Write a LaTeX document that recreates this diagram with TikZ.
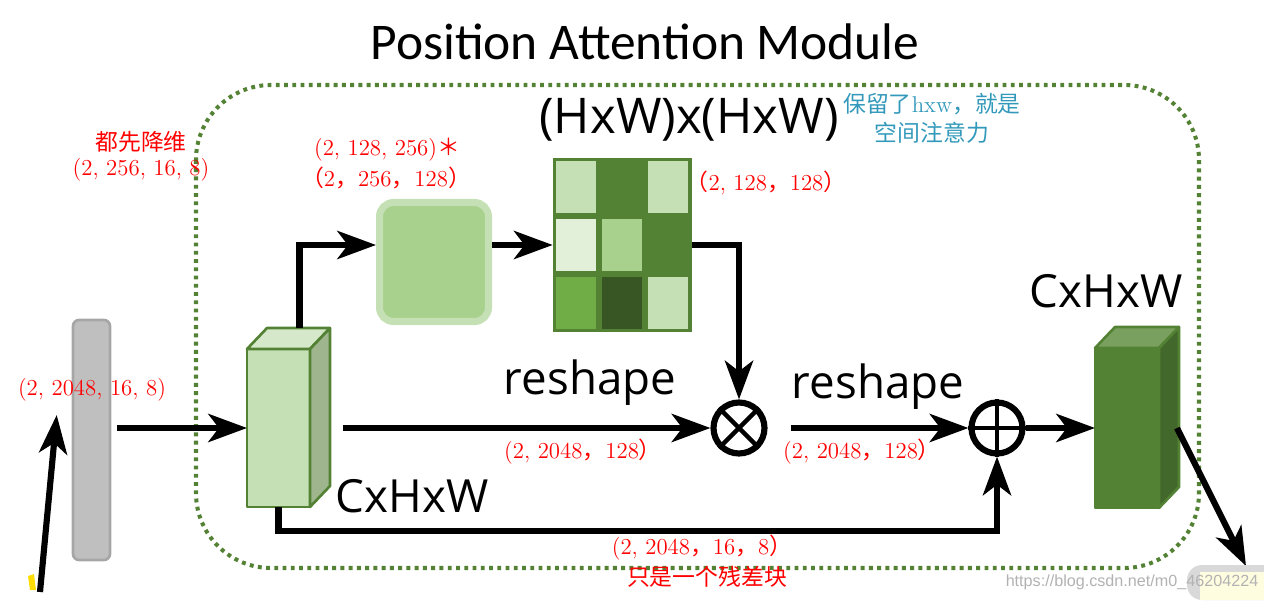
\documentclass[tikz,border=0pt]{standalone}
\usepackage{fontspec}
\setsansfont{Open Sans}
\newfontfamily\titlefont{Carlito}
\newfontfamily\cjk{Noto Sans CJK SC}
\newfontfamily\wmfont{Liberation Sans}
\usetikzlibrary{arrows.meta,calc,positioning}
\definecolor{frame}{HTML}{548235}
\definecolor{lgreen}{HTML}{C5E0B4}
\definecolor{vlgreen}{HTML}{E2F0D9}
\definecolor{mgreen}{HTML}{A9D18E}
\definecolor{bgreen}{HTML}{70AD47}
\definecolor{dkgreen}{HTML}{375623}
\definecolor{topgreen}{HTML}{D5E8CA}
\definecolor{sidegreen}{HTML}{9EB58E}
\definecolor{outtop}{HTML}{7AA05F}
\definecolor{outside}{HTML}{43682B}
\definecolor{noteblue}{HTML}{3399BB}
\newcommand{\fw}[1]{{\cjk #1}}

\begin{document}
\begin{tikzpicture}[x=0.02cm, y=-0.02cm,
arr/.style = {line width=3.5pt, -{Stealth[length=22pt, width=16pt, inset=6pt]}},
dim/.style = {text=red, font=\fontsize{13}{15}\selectfont, inner sep=0pt},
lab/.style = {font=\sffamily\fontsize{26}{30}\selectfont, inner sep=0pt},
note/.style = {text=noteblue, font=\cjk\fontsize{13}{15}\selectfont, inner sep=0pt},
face/.style = {draw=frame, line width=1.5pt, line join=round, inner sep=0pt, outer sep=0pt},
op/.style = {circle, draw, line width=3.5pt, minimum size=1.02cm, inner sep=0pt}]
\useasboundingbox (0,0) rectangle (1264,601);

% dotted module frame
\draw[frame, line width=2.3pt, dash pattern=on 2.2pt off 2.5pt, rounded corners=1.5cm]
  (196,85) rectangle (1199,568);
\node[font=\titlefont\fontsize{29.3}{34}\selectfont] (title) at (645,42) {Position Attention Module};

% input bar
\node[draw=black!35, fill=black!25, line width=1.5pt, rounded corners=0.12cm,
  minimum width=0.74cm, minimum height=4.8cm] (gbar) at (91.5,440) {};
\fill[yellow!80!orange] (28,576) -- (34,574) -- (36,590) -- (30,590) -- cycle;
\coordinate (src) at (40,592);

% feature cube C x H x W
\node[face, fill=lgreen, minimum width=1.26cm, minimum height=3.16cm] (c1) at (278.5,428) {};
\draw[face, fill=topgreen] (c1.north west) -- ++(20,-21) -- ++(63,0) -- (c1.north east) -- cycle;
\draw[face, fill=sidegreen] (c1.north east) -- ++(20,-21) -- ++(0,158) -- (c1.south east) -- cycle;

% conv block
\node[draw=lgreen, fill=mgreen, line width=4pt, rounded corners=0.28cm,
  minimum width=2.18cm, minimum height=2.38cm] (conv) at (434,262) {};

% attention map
\node[fill=frame, minimum width=2.78cm, minimum height=3.48cm, inner sep=0pt] (att) at (622.5,245) {};
\foreach \col/\row/\clr in {0/0/lgreen, 1/0/frame, 2/0/lgreen,
                            0/1/vlgreen, 1/1/mgreen, 2/1/frame,
                            0/2/bgreen, 1/2/dkgreen, 2/2/lgreen}
  \fill[\clr] ($(att.north west)+(\col*46+3,\row*58+3)$) rectangle ++(40,52);

% operators
\node[op] (mul) at (739,428) {};
\draw[line width=2.5pt] (mul.north west) -- (mul.south east) (mul.north east) -- (mul.south west);
\node[op] (add) at (997,428) {};
\draw[line width=2.5pt] (add.north) -- (add.south) (add.west) -- (add.east);

% output cube
\node[face, fill=frame, draw=frame, minimum width=1.28cm, minimum height=3.2cm] (c2) at (1127,428) {};
\draw[face, fill=outtop] (c2.north west) -- ++(20,-21) -- ++(64,0) -- (c2.north east) -- cycle;
\draw[face, fill=outside] (c2.north east) -- ++(20,-21) -- ++(0,160) -- (c2.south east) -- cycle;
\coordinate (next) at (1246,566);

% connectors
\draw[arr] (src) -- ($(gbar.west)+(-15,-25)$);
\draw[arr, shorten <=3pt] (gbar.east |- c1.west) -- (c1.west);
\draw[arr] ($(c1.north)+(21,-21)$) |- (conv.west |- att.west);
\draw[arr] (conv.east |- att.west) -- (att.west);
\draw[arr] (att.east) -| (mul.north);
\draw[arr, shorten <=0.66cm] (c1.east) -- (mul.west);
\draw[arr, shorten <=0.46cm] (mul.east) -- (add.west);
\draw[arr] (c1.south) -- ++(0,24) -| (add.south);
\draw[arr] (add.east) -- (c2.west);
\draw[arr] ($(c2.east)+(18,0)$) -- (next);

% labels
\node[lab, font=\sffamily\fontsize{28}{32}\selectfont] (attlab) at (689,120) {(HxW)x(HxW)};
\node[lab] (inlab) at (412,496) {CxHxW};
\node[lab] (outlab) at (1106,291) {CxHxW};
\node[lab] (rs1) at (590,383) {reshape};
\node[lab] (rs2) at (878,387) {reshape};

\node[dim] (d0) at (92,390) {(2, 2048, 16, 8)};
\node[dim] (d1a) at (141,142) {\fw{都先降维}};
\node[dim] (d1b) at (141,170) {(2, 256, 16, 8)};
\node[dim] (d2a) at (387,150) {(2, 128, 256)\fw{＊}};
\node[dim] (d2b) at (386,178) {\fw{（}2\fw{，}256\fw{，}128\fw{）}};
\node[dim] (d3) at (766,183) {\fw{（}2, 128\fw{，}128\fw{）}};
\node[dim] (d4) at (583,452) {(2, 2048\fw{，}128\fw{）}};
\node[dim] (d5) at (862,452) {(2, 2048\fw{，}128\fw{）}};
\node[dim] (d6) at (702,548) {(2, 2048\fw{，}16\fw{，}8\fw{）}};
\node[dim] (d7) at (707,577) {\fw{只是一个残差块}};

\node[note] (n1) at (932,104) {保留了{\rmfamily hxw}，就是};
\node[note] (n2) at (932,133) {空间注意力};

% next block fragment and watermark
\fill[black!15, rounded corners=0.3cm] (1187,565) rectangle (1290,600);
\fill[yellow!12!white] (1200,572) rectangle (1290,600);
\node[text=black!30, font=\wmfont\fontsize{9.2}{11}\selectfont, inner sep=0pt] (wm) at (1132,582)
  {https://blog.csdn.net/m0\_46204224};
\end{tikzpicture}
\end{document}
